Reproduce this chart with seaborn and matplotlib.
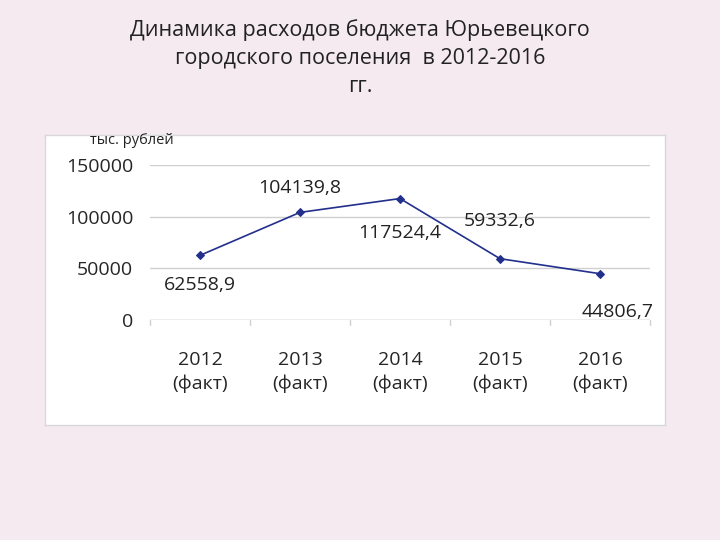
import matplotlib
matplotlib.use("Agg")
import matplotlib.pyplot as plt
import seaborn as sns
import pandas as pd

categories = ["2012\n(факт)", "2013\n(факт)", "2014\n(факт)", "2015\n(факт)", "2016\n(факт)"]
values = [62558.9, 104139.8, 117524.4, 59332.6, 44806.7]
value_labels = ["62558,9", "104139,8", "117524,4", "59332,6", "44806,7"]
yticks = [0, 50000, 100000, 150000]

sns.set_theme(style="white")
plt.rcParams['font.family'] = ['Open Sans', 'DejaVu Sans']

bg = "#f4eaef"
fig = plt.figure(figsize=(7.2, 5.4), dpi=100)
fig.patch.set_facecolor(bg)

bgax = fig.add_axes([45/720, 1-425/540, 620/720, 290/540])
bgax.set_facecolor("white")
bgax.set_xticks([]); bgax.set_yticks([])
for s in bgax.spines.values():
    s.set_color("#d8d8d8"); s.set_linewidth(1)

fig.text(0.5, 0.965, "Динамика расходов бюджета Юрьевецкого\nгородского поселения  в 2012-2016\nгг.",
         ha="center", va="top", fontsize=15.5, color="#222222", linespacing=1.45)
fig.text(90/720, 1-140/540, "тыс. рублей", fontsize=10.5, va="center", color="#222222", zorder=5)

ax = fig.add_axes([150/720, 1-320/540, 500/720, 155/540])
ax.set_facecolor("white")
df = pd.DataFrame({"x": range(len(values)), "y": values})
sns.lineplot(data=df, x="x", y="y", ax=ax, color="#22308c", lw=1.2,
             marker="D", markersize=4, markeredgecolor="#22308c")
ax.set_xlim(-0.5, 4.5)
ax.set_ylim(0, 150000)
ax.set_yticks(yticks)
ax.set_yticklabels([str(t) for t in yticks], fontsize=14)
ax.set_xticks(range(len(categories)))
ax.set_xticklabels(categories, fontsize=14, linespacing=1.4)
ax.tick_params(axis="x", pad=22, length=0)
ax.tick_params(axis="y", length=0, pad=12)
ax.grid(axis="y", color="#d0d0d0", lw=1)
for s in ax.spines.values():
    s.set_visible(False)
ax.axhline(0, color="#d0d0d0", lw=1)
for i in range(6):
    ax.plot([i-0.5, i-0.5], [0, -5000], color="#d0d0d0", lw=1, clip_on=False)
ax.set_xlabel(""); ax.set_ylabel("")

offsets = [(0, -30), (0, 24), (0, -34), (0, 38), (18, -38)]
for i, (v, lab, off) in enumerate(zip(values, value_labels, offsets)):
    ax.annotate(lab, (i, v), xytext=off, textcoords="offset pixels",
                ha="center", va="center", fontsize=14, color="#222222")

fig.savefig("out.png", dpi=100, facecolor=bg)
